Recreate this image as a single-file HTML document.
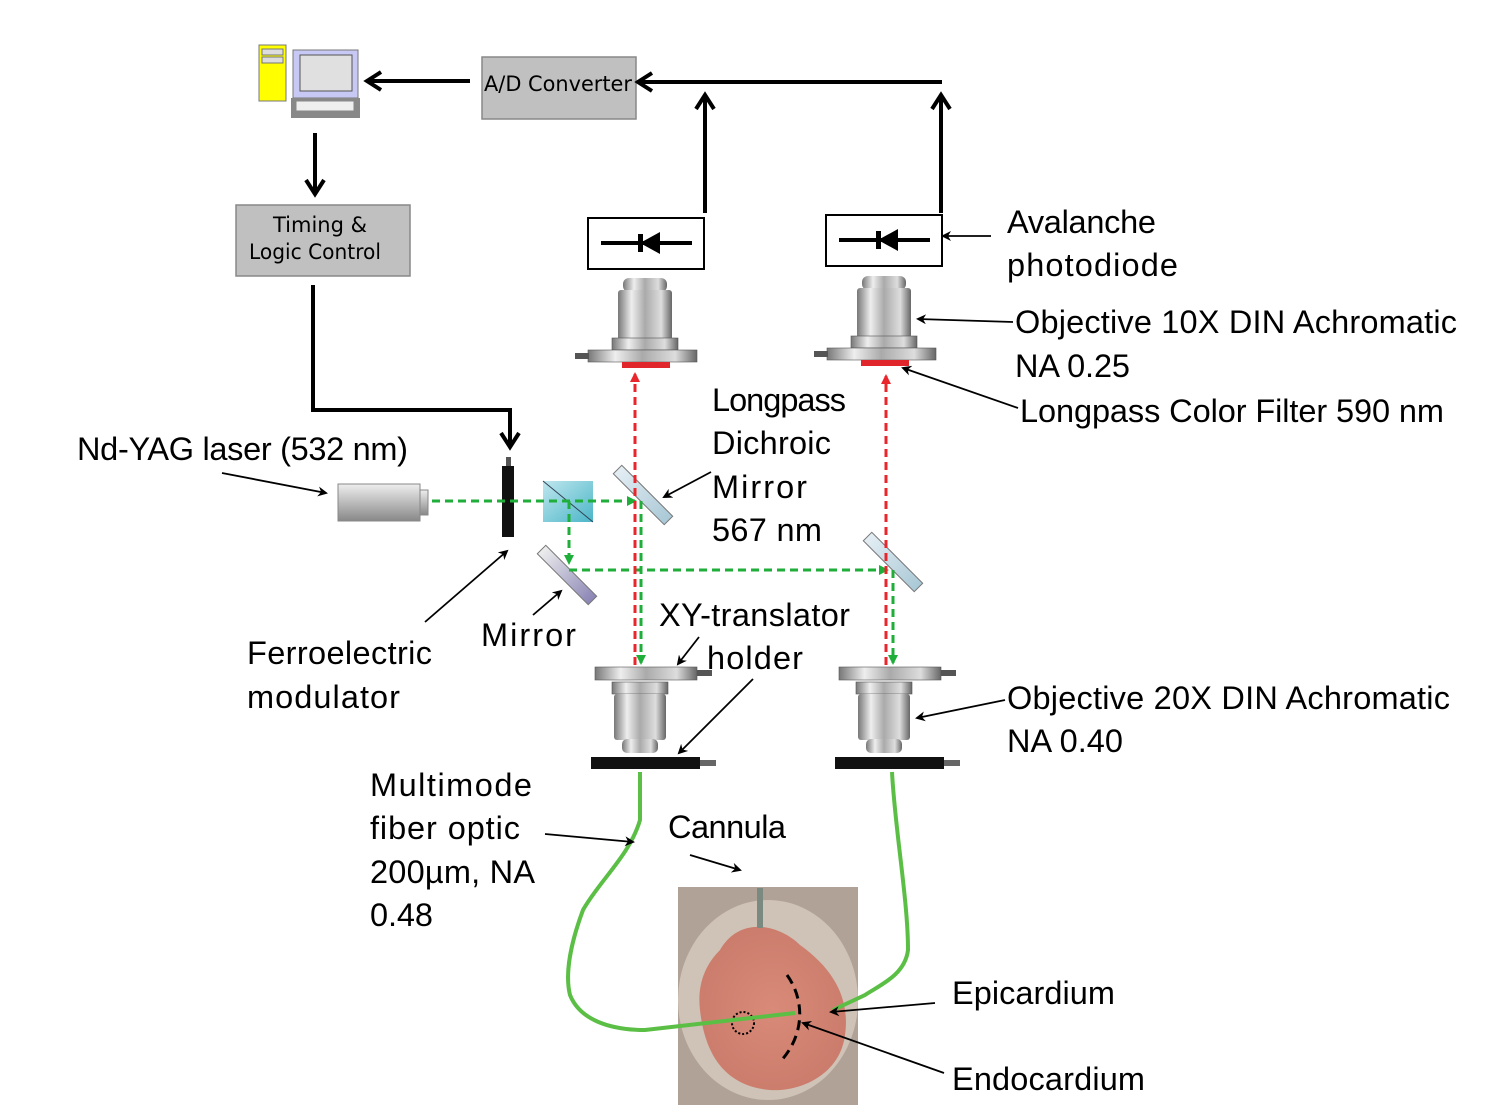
<!DOCTYPE html>
<html><head><meta charset="utf-8"><style>
html,body{margin:0;padding:0;background:#fff}
svg{display:block}
text{font-family:"Liberation Sans",sans-serif;fill:#000}
.l{font-size:32.5px}
.c{font-family:"Comic Sans MS","DejaVu Sans",sans-serif;font-size:21px}
</style></head><body>
<svg width="1500" height="1119" viewBox="0 0 1500 1119" xmlns="http://www.w3.org/2000/svg">
<defs>
<marker id="ah" markerWidth="10" markerHeight="10" refX="8" refY="5" orient="auto" markerUnits="userSpaceOnUse" viewBox="0 0 10 10"><path d="M0,0 L10,5 L0,10 L3,5 z" fill="#000"/></marker>
<marker id="big" markerWidth="22" markerHeight="22" refX="18" refY="11" orient="auto" markerUnits="userSpaceOnUse" viewBox="0 0 22 22"><path d="M4,2 L18,11 L4,20" fill="none" stroke="#000" stroke-width="4"/></marker>
<marker id="ga" markerWidth="10" markerHeight="10" refX="8" refY="5" orient="auto" markerUnits="userSpaceOnUse" viewBox="0 0 10 10"><path d="M0,0 L10,5 L0,10 z" fill="#1fae3a"/></marker>
<marker id="ra" markerWidth="10" markerHeight="10" refX="8" refY="5" orient="auto" markerUnits="userSpaceOnUse" viewBox="0 0 10 10"><path d="M0,0 L10,5 L0,10 z" fill="#e8262b"/></marker>
<linearGradient id="met" x1="0" x2="1"><stop offset="0" stop-color="#777"/><stop offset=".25" stop-color="#eee"/><stop offset=".5" stop-color="#aaa"/><stop offset=".8" stop-color="#ddd"/><stop offset="1" stop-color="#666"/></linearGradient>
<linearGradient id="las" x1="0" y1="0" x2="0" y2="1"><stop offset="0" stop-color="#eee"/><stop offset="1" stop-color="#888"/></linearGradient>
<linearGradient id="cube" x1="0" y1="0" x2="1" y2="1"><stop offset="0" stop-color="#bfe6ee"/><stop offset="1" stop-color="#4bb6c8"/></linearGradient>
<linearGradient id="glass" x1="0" y1="0" x2="1" y2="0"><stop offset="0" stop-color="#e4eef4"/><stop offset="1" stop-color="#a9c8d6"/></linearGradient>
<linearGradient id="purp" x1="0" y1="0" x2="1" y2="0"><stop offset="0" stop-color="#eee"/><stop offset="1" stop-color="#8a85b5"/></linearGradient>
<radialGradient id="heart" cx=".5" cy=".5" r=".6"><stop offset="0" stop-color="#d98a78"/><stop offset="1" stop-color="#c97a6a"/></radialGradient>
<g id="objU">
<rect x="-22" y="0" width="44" height="14" rx="6" fill="url(#met)"/>
<rect x="-27" y="12" width="54" height="50" rx="3" fill="url(#met)"/>
<rect x="-33" y="60" width="66" height="12" fill="url(#met)" stroke="#555" stroke-width=".6"/>
<rect x="-57" y="72" width="109" height="12" fill="url(#met)" stroke="#555" stroke-width=".6"/>
<rect x="-70" y="75" width="14" height="6" fill="#555"/>
<rect x="-23" y="84" width="48" height="6" fill="#e0262a"/>
</g>
<g id="objL">
<rect x="-45" y="0" width="102" height="13" fill="url(#met)" stroke="#555" stroke-width=".6"/>
<rect x="57" y="3" width="15" height="6" fill="#555"/>
<rect x="-28" y="15" width="56" height="12" fill="url(#met)" stroke="#555" stroke-width=".6"/>
<rect x="-26" y="27" width="52" height="46" rx="3" fill="url(#met)"/>
<rect x="-18" y="72" width="36" height="14" rx="5" fill="url(#met)"/>
<rect x="-49" y="90" width="109" height="12" fill="#111"/>
<rect x="60" y="93" width="16" height="6" fill="#666"/>
</g>
<g id="diode">
<rect x="0" y="0" width="116" height="51" fill="#fff" stroke="#000" stroke-width="2"/>
<line x1="13" y1="25" x2="104" y2="25" stroke="#000" stroke-width="4"/>
<path d="M52,25 L72,14 L72,36 z" fill="#000"/>
<rect x="50" y="16" width="5" height="18" fill="#000"/>
</g>
</defs>

<!-- computer -->
<rect x="259" y="45" width="27" height="56" fill="#ffff00" stroke="#777"/>
<rect x="262" y="49" width="21" height="6" fill="#ddd" stroke="#777"/>
<rect x="262" y="57" width="21" height="6" fill="#ddd" stroke="#777"/>
<rect x="293" y="50" width="65" height="48" fill="#c8c8f4" stroke="#777"/>
<rect x="300" y="55" width="52" height="36" fill="#e0e0e0" stroke="#555"/>
<rect x="291" y="98" width="69" height="20" fill="#888"/>
<rect x="296" y="101" width="58" height="10" fill="#eee" stroke="#888"/>

<rect x="482" y="57" width="154" height="62" fill="#c0c0c0" stroke="#888" stroke-width="1.5"/>
<text class="c" x="484" y="91" textLength="148" lengthAdjust="spacingAndGlyphs">A/D Converter</text>
<rect x="236" y="205" width="174" height="71" fill="#c0c0c0" stroke="#888" stroke-width="1.5"/>
<text class="c" x="320" y="232" text-anchor="middle">Timing &amp;</text>
<text class="c" x="315" y="259" text-anchor="middle" textLength="132" lengthAdjust="spacingAndGlyphs">Logic Control</text>

<g stroke="#000" stroke-width="4" fill="none">
<line x1="470" y1="81" x2="367" y2="81" marker-end="url(#big)"/>
<line x1="315" y1="133" x2="315" y2="194" marker-end="url(#big)"/>
<line x1="942" y1="82" x2="638" y2="82" marker-end="url(#big)"/>
<line x1="705" y1="213" x2="705" y2="95" marker-end="url(#big)"/>
<line x1="941" y1="213" x2="941" y2="95" marker-end="url(#big)"/>
<polyline points="313,285 313,410 510,410 510,447" marker-end="url(#big)"/>
</g>

<use href="#diode" x="588" y="218"/>
<use href="#diode" x="826" y="215"/>
<use href="#objU" x="645" y="278"/>
<use href="#objU" x="884" y="276"/>
<use href="#objL" x="640" y="667"/>
<use href="#objL" x="884" y="667"/>

<!-- laser -->
<rect x="338" y="484" width="82" height="37" fill="url(#las)" stroke="#888"/>
<rect x="420" y="490" width="8" height="25" fill="url(#las)" stroke="#888"/>
<rect x="506" y="457" width="5" height="10" fill="#555"/>
<rect x="502" y="466" width="12" height="71" fill="#111"/>
<rect x="543" y="481" width="50" height="41" fill="url(#cube)"/>
<line x1="543" y1="481" x2="593" y2="522" stroke="#345" stroke-width="1"/>
<rect x="-36" y="-6" width="72" height="12" fill="url(#glass)" stroke="#777" transform="translate(643,495) rotate(45)"/>
<rect x="-36" y="-6" width="72" height="12" fill="url(#glass)" stroke="#777" transform="translate(893,562) rotate(45)"/>
<rect x="-36" y="-6" width="72" height="12" fill="url(#purp)" stroke="#777" transform="translate(567,575) rotate(45)"/>

<g stroke-width="3" fill="none" stroke-dasharray="8,5">
<line x1="432" y1="501" x2="635" y2="501" stroke="#1fae3a" marker-end="url(#ga)"/>
<line x1="641" y1="501" x2="641" y2="663" stroke="#1fae3a" marker-end="url(#ga)"/>
<line x1="569" y1="501" x2="569" y2="563" stroke="#1fae3a" marker-end="url(#ga)"/>
<line x1="569" y1="570" x2="887" y2="570" stroke="#1fae3a" marker-end="url(#ga)"/>
<line x1="893" y1="570" x2="893" y2="663" stroke="#1fae3a" marker-end="url(#ga)"/>
<line x1="635" y1="665" x2="635" y2="374" stroke="#e8262b" marker-end="url(#ra)"/>
<line x1="886" y1="665" x2="886" y2="376" stroke="#e8262b" marker-end="url(#ra)"/>
</g>

<!-- heart -->
<rect x="678" y="887" width="180" height="218" fill="#b0a296"/>
<ellipse cx="768" cy="1000" rx="90" ry="100" fill="#cfc2b6"/>
<path d="M720,950 C740,915 780,925 800,945 C835,970 850,1000 845,1035 C840,1075 800,1092 770,1090 C725,1086 705,1055 700,1010 C697,985 705,965 720,950 z" fill="url(#heart)"/>
<rect x="757" y="888" width="6" height="40" fill="#7a8a80"/>
<circle cx="743" cy="1023" r="11" fill="none" stroke="#000" stroke-width="2" stroke-dasharray="2,2"/>
<path d="M787,975 C805,1000 805,1035 780,1062" fill="none" stroke="#000" stroke-width="3" stroke-dasharray="10,6"/>

<g stroke="#5bbf46" stroke-width="4" fill="none">
<path d="M640,772 L640,820 C630,855 600,880 583,910 C570,945 565,975 570,995 C580,1020 610,1030 645,1030 L795,1013"/>
<path d="M892,772 C895,830 908,900 908,950 C905,975 880,985 865,995 L833,1010"/>
</g>

<!-- pointer arrows -->
<g stroke="#000" stroke-width="1.8" fill="none">
<line x1="222" y1="473" x2="326" y2="493" marker-end="url(#ah)"/>
<line x1="425" y1="622" x2="507" y2="551" marker-end="url(#ah)"/>
<line x1="533" y1="615" x2="561" y2="591" marker-end="url(#ah)"/>
<line x1="711" y1="472" x2="664" y2="497" marker-end="url(#ah)"/>
<line x1="699" y1="637" x2="678" y2="664" marker-end="url(#ah)"/>
<line x1="753" y1="679" x2="679" y2="753" marker-end="url(#ah)"/>
<line x1="991" y1="236" x2="943" y2="236" marker-end="url(#ah)"/>
<line x1="1013" y1="322" x2="918" y2="319" marker-end="url(#ah)"/>
<line x1="1018" y1="408" x2="903" y2="368" marker-end="url(#ah)"/>
<line x1="1005" y1="700" x2="917" y2="718" marker-end="url(#ah)"/>
<line x1="545" y1="834" x2="633" y2="842" marker-end="url(#ah)"/>
<line x1="690" y1="855" x2="740" y2="870" marker-end="url(#ah)"/>
<line x1="935" y1="1003" x2="831" y2="1012" marker-end="url(#ah)"/>
<line x1="944" y1="1073" x2="803" y2="1023" marker-end="url(#ah)"/>
</g>

<g>
<text class="l" x="77" y="460" textLength="331">Nd-YAG laser (532 nm)</text>
<text class="l" x="247" y="664" textLength="185">Ferroelectric</text>
<text class="l" x="247" y="708" textLength="153">modulator</text>
<text class="l" x="481" y="646" textLength="95">Mirror</text>
<text class="l" x="712" y="411" textLength="134">Longpass</text>
<text class="l" x="712" y="454" textLength="119">Dichroic</text>
<text class="l" x="712" y="498" textLength="95">Mirror</text>
<text class="l" x="712" y="541" textLength="110">567 nm</text>
<text class="l" x="659" y="626" textLength="191">XY-translator</text>
<text class="l" x="707" y="669" textLength="96">holder</text>
<text class="l" x="1007" y="233" textLength="149">Avalanche</text>
<text class="l" x="1007" y="276" textLength="171">photodiode</text>
<text class="l" x="1015" y="333" textLength="442">Objective 10X DIN Achromatic</text>
<text class="l" x="1015" y="377" textLength="115">NA 0.25</text>
<text class="l" x="1020" y="422" textLength="424">Longpass Color Filter 590 nm</text>
<text class="l" x="1007" y="709" textLength="443">Objective 20X DIN Achromatic</text>
<text class="l" x="1007" y="752" textLength="116">NA 0.40</text>
<text class="l" x="370" y="796" textLength="162">Multimode</text>
<text class="l" x="370" y="839" textLength="150">fiber optic</text>
<text class="l" x="370" y="883" textLength="165">200µm, NA</text>
<text class="l" x="370" y="926" textLength="63">0.48</text>
<text class="l" x="668" y="838" textLength="118">Cannula</text>
<text class="l" x="952" y="1004" textLength="163">Epicardium</text>
<text class="l" x="952" y="1090" textLength="193">Endocardium</text>
</g>
</svg>
</body></html>
